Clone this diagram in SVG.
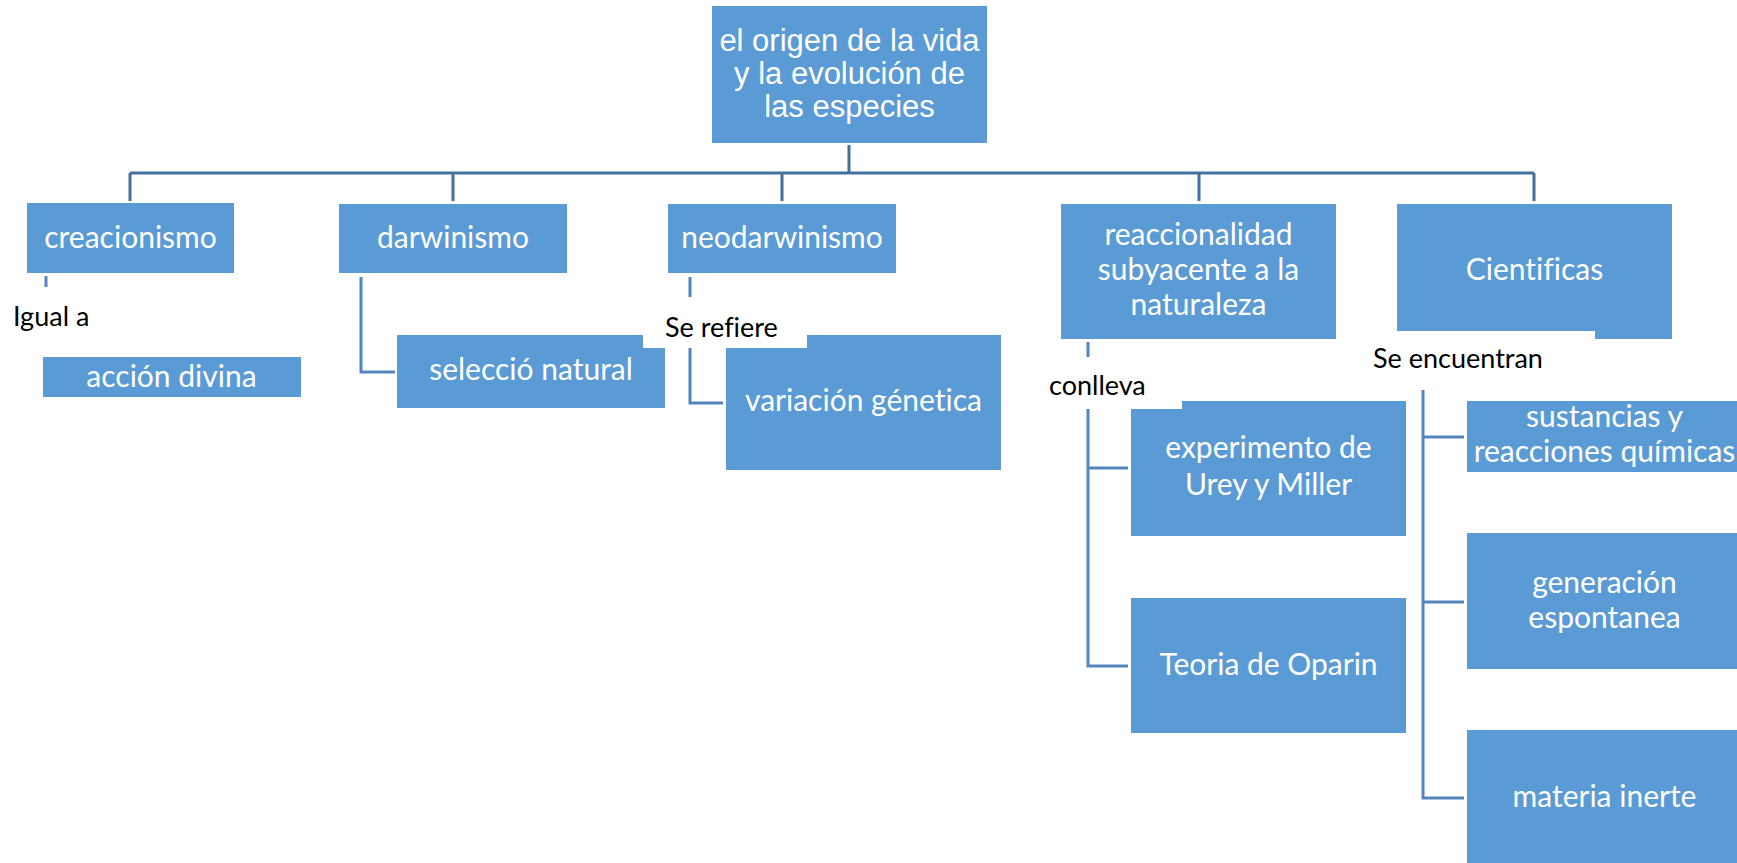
<svg xmlns="http://www.w3.org/2000/svg" width="1737" height="863" viewBox="0 0 1737 863">
<style>
.box{fill:#5B9BD5;}
.wt{fill:#FFFFFF;font-family:Lato,"Open Sans",sans-serif;font-size:30px;text-anchor:middle;font-variant-ligatures:none;}
.tt{fill:#FFFFFF;font-family:"Liberation Sans",Arial,sans-serif;font-size:31px;text-anchor:middle;}
.lb{fill:#000000;font-family:Lato,"Open Sans",sans-serif;font-size:27px;font-variant-ligatures:none;}
.bg{fill:#FFFFFF;}
.main{fill:none;stroke:#41719C;stroke-width:3;}
.sub{fill:none;stroke:#5585BE;stroke-width:3;}
</style>
<rect width="1737" height="863" fill="#FFFFFF"/>
<g id="connectors">
<path class="main" d="M849,145 V173 M130,173 H1534 M130,173 V201 M453,173 V201 M782,173 V201 M1199,173 V201 M1534,173 V201"/>
<path class="sub" d="M46,276 V287"/>
<path class="sub" d="M361,277 V372 H395"/>
<path class="sub" d="M690,277 V297 M690,348 V403 H723"/>
<path class="sub" d="M1088,342 V357 M1088,409 V666 H1128 M1088,468 H1128"/>
<path class="sub" d="M1423,390 V798 H1464 M1423,437 H1464 M1423,602 H1464"/>
</g>
<g id="root">
<rect class="box" x="712" y="6" width="275" height="137"/>
<text class="tt" x="849.5" y="51">el origen de la vida</text>
<text class="tt" x="849.5" y="84">y la evolución de</text>
<text class="tt" x="849.5" y="117">las especies</text>
</g>
<g id="creacionismo">
<rect class="box" x="27" y="203" width="207" height="70"/>
<text class="wt" x="130.5" y="248">creacionismo</text>
</g>
<g id="darwinismo">
<rect class="box" x="339" y="204" width="228" height="69"/>
<text class="wt" x="453" y="248">darwinismo</text>
</g>
<g id="neodarwinismo">
<rect class="box" x="668" y="204" width="228" height="69"/>
<text class="wt" x="782" y="248">neodarwinismo</text>
</g>
<g id="reaccionalidad">
<rect class="box" x="1061" y="204" width="275" height="135"/>
<text class="wt" x="1198.5" y="245">reaccionalidad</text>
<text class="wt" x="1198.5" y="280">subyacente a la</text>
<text class="wt" x="1198.5" y="315">naturaleza</text>
</g>
<g id="cientificas">
<rect class="box" x="1397" y="204" width="275" height="135"/>
<text class="wt" x="1534.5" y="280">Cientificas</text>
</g>
<g id="accion-divina">
<rect class="box" x="43" y="357" width="258" height="40"/>
<text class="wt" x="171.5" y="387">acción divina</text>
</g>
<g id="seleccion-natural">
<rect class="box" x="397" y="335" width="268" height="73"/>
<text class="wt" x="531" y="380">selecció natural</text>
</g>
<g id="variacion-genetica">
<rect class="box" x="726" y="335" width="275" height="135"/>
<text class="wt" x="863.5" y="411">variación génetica</text>
</g>
<g id="experimento">
<rect class="box" x="1131" y="401" width="275" height="135"/>
<text class="wt" x="1268.5" y="458">experimento de</text>
<text class="wt" x="1268.5" y="495">Urey y Miller</text>
</g>
<g id="oparin">
<rect class="box" x="1131" y="598" width="275" height="135"/>
<text class="wt" x="1268.5" y="675">Teoria de Oparin</text>
</g>
<g id="sustancias">
<rect class="box" x="1467" y="401" width="275" height="71"/>
<text class="wt" x="1604.5" y="427">sustancias y</text>
<text class="wt" x="1604.5" y="462">reacciones químicas</text>
</g>
<g id="generacion">
<rect class="box" x="1467" y="533" width="275" height="136"/>
<text class="wt" x="1604.5" y="593">generación</text>
<text class="wt" x="1604.5" y="628">espontanea</text>
</g>
<g id="materia">
<rect class="box" x="1467" y="730" width="275" height="140"/>
<text class="wt" x="1604.5" y="807">materia inerte</text>
</g>
<g id="labels">
<text class="lb" x="13" y="326">Igual a</text>
<rect class="bg" x="643" y="302" width="164" height="46"/>
<text class="lb" x="665" y="337">Se refiere</text>
<rect class="bg" x="1045" y="360" width="137" height="49"/>
<text class="lb" x="1049" y="395">conlleva</text>
<rect class="bg" x="1368" y="331" width="227" height="50"/>
<text class="lb" x="1373" y="368">Se encuentran</text>
</g>
</svg>
